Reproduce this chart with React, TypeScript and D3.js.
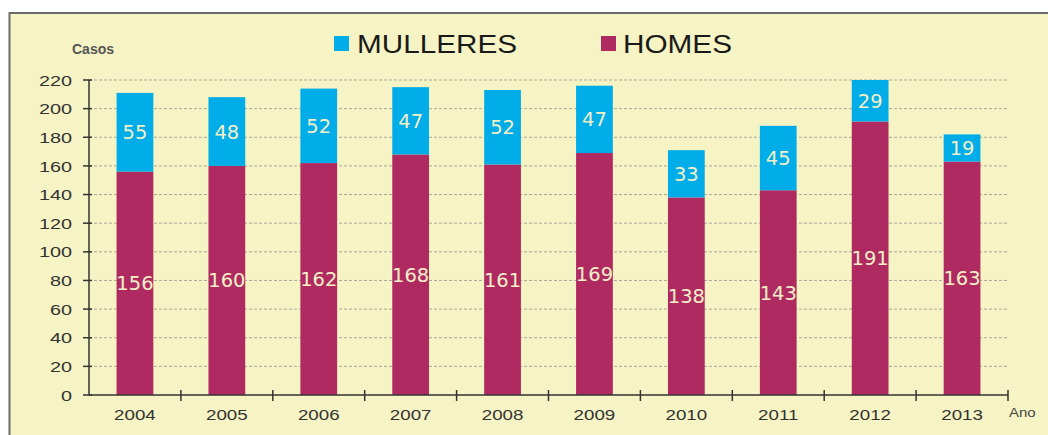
import React from "react";
import * as d3 from "d3";

const years = ["2004", "2005", "2006", "2007", "2008", "2009", "2010", "2011", "2012", "2013"];
const homes = [156, 160, 162, 168, 161, 169, 138, 143, 191, 163];
const mulleres = [55, 48, 52, 47, 52, 47, 33, 45, 29, 19];
const yTicks = [0, 20, 40, 60, 80, 100, 120, 140, 160, 180, 200, 220];

const W = 1048;
const H = 435;
const BG = "#F6F4C4";
const BLUE = "#00ADE8";
const MAGENTA = "#B02A62";
const FONT = "'Liberation Sans', Arial, sans-serif";
const WIDE = "'DejaVu Sans', Verdana, sans-serif";

export default function App() {
  const x = d3.scaleBand<string>().domain(years).range([89, 1008]).paddingInner(0.6).paddingOuter(0.3);
  const xb = d3.scaleBand<string>().domain(years).range([89, 1008]);
  const y = d3.scaleLinear().domain([0, 220]).range([395, 80]);

  return (
    <svg width={W} height={H} style={{ position: "absolute", left: 0, top: 0, display: "block" }}>
      <rect x={0} y={0} width={W} height={H} fill="#fff" />
      <rect x={9.5} y={13} width={W + 20} height={H + 20} fill={BG} stroke="#6b6b6b" strokeWidth={2} />
      {/* gridlines */}
      {yTicks.filter((t) => t > 0).map((t) => (
        <line key={"g" + t} x1={89} x2={1008} y1={y(t)} y2={y(t)} stroke="#a9a79a" strokeWidth={1} strokeDasharray="3,2" />
      ))}
      {/* bars */}
      {years.map((yr, i) => {
        const bx = x(yr)!;
        const bw = x.bandwidth();
        const h0 = homes[i];
        const m0 = mulleres[i];
        return (
          <g key={yr}>
            <rect x={bx} y={y(h0)} width={bw} height={y(0) - y(h0)} fill={MAGENTA} />
            <rect x={bx} y={y(h0 + m0)} width={bw} height={y(h0) - y(h0 + m0)} fill={BLUE} />
            <text x={bx + bw / 2} y={y(h0 / 2)} dy="0.36em" textAnchor="middle" fontFamily={WIDE} fontSize={19.5} fill="#F3F0C8">
              {h0}
            </text>
            <text x={bx + bw / 2} y={y(h0 + m0 / 2)} dy="0.36em" textAnchor="middle" fontFamily={WIDE} fontSize={19.5} fill="#F3F0C8">
              {m0}
            </text>
          </g>
        );
      })}
      {/* y axis */}
      <line x1={89} x2={89} y1={y(220)} y2={y(0)} stroke="#333" strokeWidth={1.5} />
      {yTicks.map((t) => (
        <g key={"t" + t}>
          <line x1={83} x2={92} y1={y(t)} y2={y(t)} stroke="#333" strokeWidth={1.5} />
          <text transform={`translate(72,${y(t)}) scale(1.28,1)`} dy="0.36em" textAnchor="end" fontFamily={FONT} fontSize={15.5} fill="#333">
            {t}
          </text>
        </g>
      ))}
      {/* x axis */}
      <line x1={89} x2={1008} y1={y(0)} y2={y(0)} stroke="#333" strokeWidth={1.5} />
      {years.map((yr) => (
        <line key={"xt" + yr} x1={xb(yr)! + xb.bandwidth()} x2={xb(yr)! + xb.bandwidth()} y1={390} y2={401} stroke="#333" strokeWidth={1.5} />
      ))}
      {years.map((yr) => (
        <text key={"xl" + yr} transform={`translate(${xb(yr)! + xb.bandwidth() / 2},420) scale(1.25,1)`} textAnchor="middle" fontFamily={FONT} fontSize={15} fill="#333">
          {yr}
        </text>
      ))}
      <text transform="translate(1009,417) scale(1.2,1)" fontFamily={FONT} fontSize={12.5} fill="#444">
        Ano
      </text>
      <text x={72} y={54} fontFamily={FONT} fontSize={14} fontWeight="bold" fill="#555">
        Casos
      </text>
      {/* legend */}
      <rect x={334} y={36} width={15} height={15} fill={BLUE} />
      <text x={357} y={53} fontFamily={FONT} fontSize={25} fill="#1a1a1a" textLength={160} lengthAdjust="spacingAndGlyphs">
        MULLERES
      </text>
      <rect x={601} y={36} width={15} height={15} fill={MAGENTA} />
      <text x={623} y={53} fontFamily={FONT} fontSize={25} fill="#1a1a1a" textLength={109} lengthAdjust="spacingAndGlyphs">
        HOMES
      </text>
    </svg>
  );
}
